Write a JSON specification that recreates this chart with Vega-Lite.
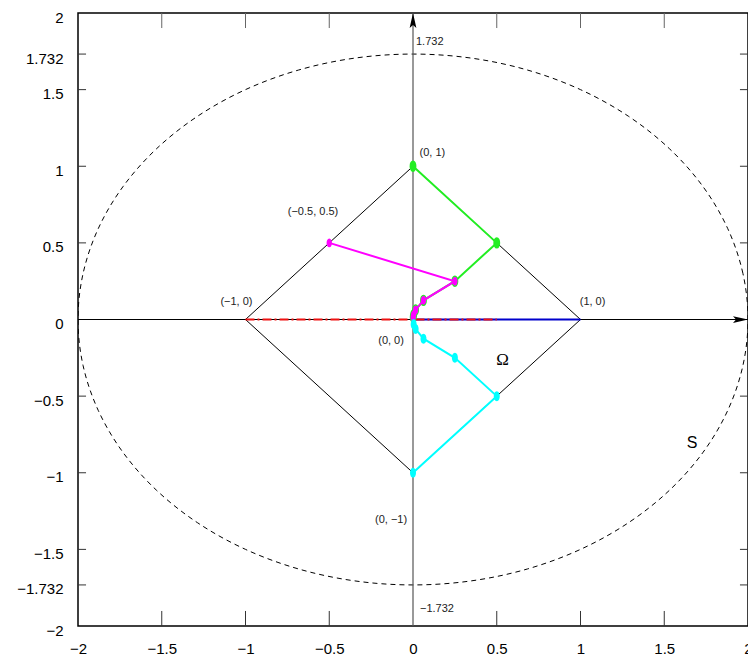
{
  "$schema": "https://vega.github.io/schema/vega-lite/v6.json",
  "width": 670,
  "height": 613,
  "autosize": {"type": "none"},
  "padding": {"left": 78, "top": 13, "right": 0, "bottom": 31},
  "background": "white",
  "resolve": {"axis": {"x": "independent", "y": "independent"}},
  "config": {
    "view": {"stroke": "#000", "strokeWidth": 1.5},
    "font": "Liberation Sans",
    "axis": {"domain": false, "grid": false, "title": null, "labelFontSize": 15, "labelColor": "#000", "tickColor": "#444", "tickWidth": 1, "labelFont": "Liberation Sans", "zindex": 1, "labelFlush": false}
  },
  "datasets": {
    "ellipse": [
      {"i": 0, "x": 2, "y": 0}, {"i": 1, "x": 1.9696, "y": 0.3007}, {"i": 2, "x": 1.8794, "y": 0.5924}, {"i": 3, "x": 1.7321, "y": 0.866},
      {"i": 4, "x": 1.5321, "y": 1.1133}, {"i": 5, "x": 1.2856, "y": 1.3267}, {"i": 6, "x": 1, "y": 1.5}, {"i": 7, "x": 0.684, "y": 1.6276},
      {"i": 8, "x": 0.3473, "y": 1.7057}, {"i": 9, "x": 0, "y": 1.732}, {"i": 10, "x": -0.3473, "y": 1.7057}, {"i": 11, "x": -0.684, "y": 1.6276},
      {"i": 12, "x": -1, "y": 1.5}, {"i": 13, "x": -1.2856, "y": 1.3267}, {"i": 14, "x": -1.5321, "y": 1.1133}, {"i": 15, "x": -1.7321, "y": 0.866},
      {"i": 16, "x": -1.8794, "y": 0.5924}, {"i": 17, "x": -1.9696, "y": 0.3007}, {"i": 18, "x": -2, "y": 0}, {"i": 19, "x": -1.9696, "y": -0.3007},
      {"i": 20, "x": -1.8794, "y": -0.5924}, {"i": 21, "x": -1.7321, "y": -0.866}, {"i": 22, "x": -1.5321, "y": -1.1133}, {"i": 23, "x": -1.2856, "y": -1.3267},
      {"i": 24, "x": -1, "y": -1.5}, {"i": 25, "x": -0.684, "y": -1.6276}, {"i": 26, "x": -0.3473, "y": -1.7057}, {"i": 27, "x": 0, "y": -1.732},
      {"i": 28, "x": 0.3473, "y": -1.7057}, {"i": 29, "x": 0.684, "y": -1.6276}, {"i": 30, "x": 1, "y": -1.5}, {"i": 31, "x": 1.2856, "y": -1.3267},
      {"i": 32, "x": 1.5321, "y": -1.1133}, {"i": 33, "x": 1.7321, "y": -0.866}, {"i": 34, "x": 1.8794, "y": -0.5924}, {"i": 35, "x": 1.9696, "y": -0.3007}
    ],
    "xticks": [{"v": -1.5}, {"v": -1}, {"v": -0.5}, {"v": 0.5}, {"v": 1}, {"v": 1.5}],
    "yticks": [{"v": -1.732}, {"v": -1.5}, {"v": -1}, {"v": -0.5}, {"v": 0}, {"v": 0.5}, {"v": 1}, {"v": 1.5}, {"v": 1.732}],
    "lines": [
      {"s": "diamond", "i": 0, "x": 0, "y": 1}, {"s": "diamond", "i": 1, "x": 1, "y": 0}, {"s": "diamond", "i": 2, "x": 0, "y": -1}, {"s": "diamond", "i": 3, "x": -1, "y": 0}, {"s": "diamond", "i": 4, "x": 0, "y": 1},
      {"s": "hax", "i": 0, "x": -2, "y": 0}, {"s": "hax", "i": 1, "x": 2, "y": 0},
      {"s": "vax", "i": 0, "x": 0, "y": -2}, {"s": "vax", "i": 1, "x": 0, "y": 2},
      {"s": "blue", "i": 0, "x": 1, "y": 0}, {"s": "blue", "i": 1, "x": 0, "y": 0},
      {"s": "red", "i": 0, "x": -1, "y": 0}, {"s": "red", "i": 1, "x": 0.5, "y": 0},
      {"s": "green", "i": 0, "x": 0, "y": 1}, {"s": "green", "i": 1, "x": 0.5, "y": 0.5}, {"s": "green", "i": 2, "x": 0.25, "y": 0.25}, {"s": "green", "i": 3, "x": 0.0625, "y": 0.125}, {"s": "green", "i": 4, "x": 0.0156, "y": 0.0625}, {"s": "green", "i": 5, "x": 0.0039, "y": 0.031}, {"s": "green", "i": 6, "x": 0.001, "y": 0.0156}, {"s": "green", "i": 7, "x": 0, "y": 0},
      {"s": "magenta", "i": 0, "x": -0.5, "y": 0.5}, {"s": "magenta", "i": 1, "x": 0.25, "y": 0.25}, {"s": "magenta", "i": 2, "x": 0.0625, "y": 0.125}, {"s": "magenta", "i": 3, "x": 0.0156, "y": 0.0625}, {"s": "magenta", "i": 4, "x": 0.0039, "y": 0.031}, {"s": "magenta", "i": 5, "x": 0.001, "y": 0.0156}, {"s": "magenta", "i": 6, "x": 0, "y": 0},
      {"s": "cyan", "i": 0, "x": 0, "y": -1}, {"s": "cyan", "i": 1, "x": 0.5, "y": -0.5}, {"s": "cyan", "i": 2, "x": 0.25, "y": -0.25}, {"s": "cyan", "i": 3, "x": 0.0625, "y": -0.125}, {"s": "cyan", "i": 4, "x": 0.0156, "y": -0.0625}, {"s": "cyan", "i": 5, "x": 0.0039, "y": -0.031}, {"s": "cyan", "i": 6, "x": 0, "y": 0}
    ],
    "labels": [
      {"t": "(0, 1)", "x": 0.116, "y": 1.088},
      {"t": "(−0.5, 0.5)", "x": -0.597, "y": 0.7},
      {"t": "(−1, 0)", "x": -1.054, "y": 0.116},
      {"t": "(1, 0)", "x": 1.072, "y": 0.114},
      {"t": "(0, 0)", "x": -0.131, "y": -0.14},
      {"t": "(0, −1)", "x": -0.131, "y": -1.31},
      {"t": "1.732", "x": 0.1, "y": 1.809},
      {"t": "−1.732", "x": 0.143, "y": -1.892}
    ],
    "arrows": [{"d": "up", "x": 0, "y": 2}, {"d": "right", "x": 2, "y": 0}]
  },
  "layer": [
    {
      "data": {"name": "ellipse"},
      "mark": {"type": "line", "interpolate": "cardinal-closed", "stroke": "#000", "strokeWidth": 1, "strokeDash": [5, 4], "clip": true},
      "encoding": {
        "x": {"field": "x", "type": "quantitative", "scale": {"domain": [-2, 2], "nice": false, "zero": false},
              "axis": {"orient": "bottom", "values": [-2, -1.5, -1, -0.5, 0, 0.5, 1, 1.5, 2], "format": ".4~f", "ticks": false, "labelPadding": 15}},
        "y": {"field": "y", "type": "quantitative", "scale": {"domain": [-2, 2], "nice": false, "zero": false},
              "axis": {"orient": "left", "values": [-2, -1.732, -1.5, -1, -0.5, 0, 0.5, 1, 1.5, 1.732, 2], "format": ".4~f", "ticks": false, "labelPadding": 15, "labelOffset": 4}},
        "order": {"field": "i", "type": "quantitative"}
      }
    },
    {
      "data": {"name": "xticks"},
      "mark": {"type": "rule", "stroke": "#333", "strokeWidth": 1},
      "encoding": {"x": {"field": "v", "type": "quantitative", "axis": null}, "y": {"datum": -2, "type": "quantitative", "axis": null}, "y2": {"datum": -1.902}}
    },
    {
      "data": {"name": "xticks"},
      "mark": {"type": "rule", "stroke": "#666", "strokeWidth": 1},
      "encoding": {"x": {"field": "v", "type": "quantitative", "axis": null}, "y": {"datum": 2, "type": "quantitative", "axis": null}, "y2": {"datum": 1.902}}
    },
    {
      "data": {"name": "yticks"},
      "mark": {"type": "rule", "stroke": "#333", "strokeWidth": 1},
      "encoding": {"y": {"field": "v", "type": "quantitative", "axis": null}, "x": {"datum": -2, "type": "quantitative", "axis": null}, "x2": {"datum": -1.952}}
    },
    {
      "data": {"name": "yticks"},
      "mark": {"type": "rule", "stroke": "#333", "strokeWidth": 1},
      "encoding": {"y": {"field": "v", "type": "quantitative", "axis": null}, "x": {"datum": 2, "type": "quantitative", "axis": null}, "x2": {"datum": 1.952}}
    },
    {
      "data": {"name": "lines"},
      "transform": [{"filter": "datum.s === 'diamond'"}],
      "mark": {"type": "line", "stroke": "#000", "strokeWidth": 1},
      "encoding": {"x": {"field": "x", "type": "quantitative", "axis": null}, "y": {"field": "y", "type": "quantitative", "axis": null}, "order": {"field": "i", "type": "quantitative"}}
    },
    {
      "data": {"name": "lines"},
      "transform": [{"filter": "datum.s === 'vax'"}],
      "mark": {"type": "line", "stroke": "#555", "strokeWidth": 1.2},
      "encoding": {"x": {"field": "x", "type": "quantitative", "axis": null}, "y": {"field": "y", "type": "quantitative", "axis": null}, "order": {"field": "i", "type": "quantitative"}}
    },
    {
      "data": {"name": "lines"},
      "transform": [{"filter": "datum.s === 'hax'"}],
      "mark": {"type": "line", "stroke": "#000", "strokeWidth": 1},
      "encoding": {"x": {"field": "x", "type": "quantitative", "axis": null}, "y": {"field": "y", "type": "quantitative", "axis": null}, "order": {"field": "i", "type": "quantitative"}}
    },
    {
      "data": {"name": "arrows"},
      "transform": [{"filter": "datum.d === 'up'"}],
      "mark": {"type": "point", "shape": "M0,0L0.45,2L0,1.6L-0.45,2Z", "size": 225, "filled": true, "color": "#000", "opacity": 1},
      "encoding": {"x": {"field": "x", "type": "quantitative", "axis": null}, "y": {"field": "y", "type": "quantitative", "axis": null}}
    },
    {
      "data": {"name": "arrows"},
      "transform": [{"filter": "datum.d === 'right'"}],
      "mark": {"type": "point", "shape": "M0,0L-2,-0.45L-1.6,0L-2,0.45Z", "size": 225, "filled": true, "color": "#000", "opacity": 1},
      "encoding": {"x": {"field": "x", "type": "quantitative", "axis": null}, "y": {"field": "y", "type": "quantitative", "axis": null}}
    },
    {
      "data": {"name": "lines"},
      "transform": [{"filter": "datum.s === 'blue'"}],
      "mark": {"type": "line", "stroke": "#0000cc", "strokeWidth": 2},
      "encoding": {"x": {"field": "x", "type": "quantitative", "axis": null}, "y": {"field": "y", "type": "quantitative", "axis": null}, "order": {"field": "i", "type": "quantitative"}}
    },
    {
      "data": {"name": "lines"},
      "transform": [{"filter": "datum.s === 'red'"}],
      "mark": {"type": "line", "stroke": "#ee1111", "strokeWidth": 2, "strokeDash": [9, 3, 2, 3]},
      "encoding": {"x": {"field": "x", "type": "quantitative", "axis": null}, "y": {"field": "y", "type": "quantitative", "axis": null}, "order": {"field": "i", "type": "quantitative"}}
    },
    {
      "data": {"name": "lines"},
      "transform": [{"filter": "datum.s === 'green'"}],
      "mark": {"type": "line", "stroke": "#22ee22", "strokeWidth": 2},
      "encoding": {"x": {"field": "x", "type": "quantitative", "axis": null}, "y": {"field": "y", "type": "quantitative", "axis": null}, "order": {"field": "i", "type": "quantitative"}}
    },
    {
      "data": {"name": "lines"},
      "transform": [{"filter": "datum.s === 'green' && datum.i < 7"}],
      "mark": {"type": "point", "shape": "M0,-1C0.8,-1 0.8,1 0,1C-0.8,1 -0.8,-1 0,-1Z", "size": 130, "filled": true, "color": "#22ee22", "opacity": 1},
      "encoding": {"x": {"field": "x", "type": "quantitative", "axis": null}, "y": {"field": "y", "type": "quantitative", "axis": null}}
    },
    {
      "data": {"name": "lines"},
      "transform": [{"filter": "datum.s === 'magenta'"}],
      "mark": {"type": "line", "stroke": "#ff00ff", "strokeWidth": 2},
      "encoding": {"x": {"field": "x", "type": "quantitative", "axis": null}, "y": {"field": "y", "type": "quantitative", "axis": null}, "order": {"field": "i", "type": "quantitative"}}
    },
    {
      "data": {"name": "lines"},
      "transform": [{"filter": "datum.s === 'magenta' && datum.i < 6"}],
      "mark": {"type": "point", "shape": "M0,-1C0.8,-1 0.8,1 0,1C-0.8,1 -0.8,-1 0,-1Z", "size": 80, "filled": true, "color": "#ff00ff", "opacity": 1},
      "encoding": {"x": {"field": "x", "type": "quantitative", "axis": null}, "y": {"field": "y", "type": "quantitative", "axis": null}}
    },
    {
      "data": {"name": "lines"},
      "transform": [{"filter": "datum.s === 'cyan'"}],
      "mark": {"type": "line", "stroke": "#00ffff", "strokeWidth": 2},
      "encoding": {"x": {"field": "x", "type": "quantitative", "axis": null}, "y": {"field": "y", "type": "quantitative", "axis": null}, "order": {"field": "i", "type": "quantitative"}}
    },
    {
      "data": {"name": "lines"},
      "transform": [{"filter": "datum.s === 'cyan' && datum.i < 6"}],
      "mark": {"type": "point", "shape": "M0,-1C0.8,-1 0.8,1 0,1C-0.8,1 -0.8,-1 0,-1Z", "size": 100, "filled": true, "color": "#00ffff", "opacity": 1},
      "encoding": {"x": {"field": "x", "type": "quantitative", "axis": null}, "y": {"field": "y", "type": "quantitative", "axis": null}}
    },
    {
      "data": {"name": "labels"},
      "mark": {"type": "text", "fontSize": 11, "color": "#222", "align": "center", "baseline": "middle", "font": "Liberation Sans"},
      "encoding": {"x": {"field": "x", "type": "quantitative", "axis": null}, "y": {"field": "y", "type": "quantitative", "axis": null}, "text": {"field": "t"}}
    },
    {
      "data": {"values": [{"t": "Ω", "x": 0.534, "y": -0.265}]},
      "mark": {"type": "text", "fontSize": 17, "color": "#000", "align": "center", "baseline": "middle", "font": "Liberation Serif"},
      "encoding": {"x": {"field": "x", "type": "quantitative", "axis": null}, "y": {"field": "y", "type": "quantitative", "axis": null}, "text": {"field": "t"}}
    },
    {
      "data": {"values": [{"t": "S", "x": 1.666, "y": -0.805}]},
      "mark": {"type": "text", "fontSize": 16, "color": "#000", "align": "center", "baseline": "middle", "font": "Liberation Sans"},
      "encoding": {"x": {"field": "x", "type": "quantitative", "axis": null}, "y": {"field": "y", "type": "quantitative", "axis": null}, "text": {"field": "t"}}
    }
  ]
}
